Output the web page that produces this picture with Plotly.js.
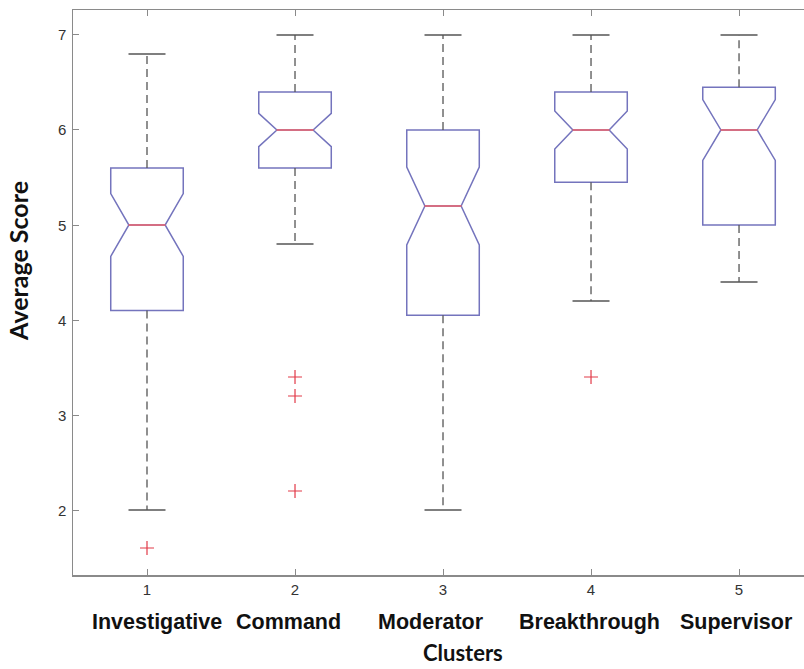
<!DOCTYPE html>
<html>
<head>
<meta charset="utf-8">
<script src="https://cdn.plot.ly/plotly-3.0.1.min.js"></script>
<style>
html,body{margin:0;padding:0;background:#fff;overflow:hidden;}
#chart{width:804px;height:669px;}
</style>
</head>
<body>
<div id="chart"></div>
<script>
// ---- data ----
const categories = ['Investigative', 'Command', 'Moderator', 'Breakthrough', 'Supervisor'];
const positions = [1, 2, 3, 4, 5];
const tickLabels = ['1', '2', '3', '4', '5'];
const q1 = [4.1, 5.6, 4.05, 5.45, 5.0];
const median = [5.0, 6.0, 5.2, 6.0, 6.0];
const q3 = [5.6, 6.4, 6.0, 6.4, 6.45];
const lowerWhisker = [2.0, 4.8, 2.0, 4.2, 4.4];
const upperWhisker = [6.8, 7.0, 7.0, 7.0, 7.0];
const notchSpan = [0.33, 0.175, 0.41, 0.2, 0.32];
const outlierX = [1, 2, 2, 2, 4];
const outlierY = [1.6, 3.4, 3.2, 2.2, 3.4];
const yTicks = [2, 3, 4, 5, 6, 7];

// ---- styles ----
const BOX_W = 0.5;
const HALF_IN = BOX_W / 4;   // half-width of median / caps
const boxColor = '#7474bd';
const medColor = '#e8606a';
const whiskColor = '#555555';
const axisColor = '#8a8a8a';
const ARIAL = "'Liberation Sans', Arial, Helvetica, sans-serif";
const TITLEF = "Lato, 'Open Sans', sans-serif";
const labelShift = [10, -7, -12, -2, -3];

const traces = [];

// notched boxes (whiskers drawn separately as dashed lines)
traces.push({
  type: 'box',
  x: positions,
  q1: q1,
  median: median,
  q3: q3,
  lowerfence: q1,
  upperfence: q3,
  notchspan: notchSpan,
  notched: true,
  notchwidth: 0.25,
  width: positions.map(() => BOX_W),
  whiskerwidth: 0,
  boxpoints: false,
  line: {color: boxColor, width: 1.5},
  fillcolor: 'rgba(0,0,0,0)',
  hoverinfo: 'skip',
  showlegend: false
});

// dashed whiskers
const wx = [], wy = [];
positions.forEach((p, i) => {
  wx.push(p, p, null, p, p, null);
  wy.push(q3[i], upperWhisker[i], null, q1[i], lowerWhisker[i], null);
});
traces.push({
  type: 'scatter', mode: 'lines', x: wx, y: wy,
  line: {color: whiskColor, width: 1.3, dash: '8px,5px'},
  hoverinfo: 'skip', showlegend: false
});

// whisker caps
const cx = [], cy = [];
positions.forEach((p, i) => {
  cx.push(p - HALF_IN, p + HALF_IN, null, p - HALF_IN, p + HALF_IN, null);
  cy.push(upperWhisker[i], upperWhisker[i], null, lowerWhisker[i], lowerWhisker[i], null);
});
traces.push({
  type: 'scatter', mode: 'lines', x: cx, y: cy,
  line: {color: whiskColor, width: 1.3},
  hoverinfo: 'skip', showlegend: false
});

// red medians
const mx = [], my = [];
positions.forEach((p, i) => {
  mx.push(p - HALF_IN, p + HALF_IN, null);
  my.push(median[i], median[i], null);
});
traces.push({
  type: 'scatter', mode: 'lines', x: mx, y: my,
  line: {color: medColor, width: 1.5},
  hoverinfo: 'skip', showlegend: false
});

// outliers
traces.push({
  type: 'scatter', mode: 'markers', x: outlierX, y: outlierY,
  marker: {symbol: 'cross-thin', size: 10, line: {color: '#e23a48', width: 1.2}},
  hoverinfo: 'skip', showlegend: false
});

const annotations = categories.map((c, i) => ({
  text: '<b>' + c + '</b>', x: positions[i], xref: 'x', y: -0.083, yref: 'paper',
  xanchor: 'center', yanchor: 'middle', showarrow: false, xshift: labelShift[i],
  font: {family: ARIAL, size: 21.5, color: '#111'}
}));
// y tick labels (placed close to the axis line like the reference)
yTicks.forEach(v => annotations.push({
  text: String(v), x: -0.007, xref: 'paper', y: v, yref: 'y',
  xanchor: 'right', yanchor: 'middle', showarrow: false,
  font: {family: ARIAL, size: 15, color: '#333'}
}));
annotations.push({
  text: '<b>Clusters</b>', x: 0.5335, xref: 'paper', y: -0.138, yref: 'paper',
  xanchor: 'center', yanchor: 'middle', showarrow: false,
  font: {family: TITLEF, size: 22, color: '#111'}
});
annotations.push({
  text: '<b>Average Score</b>', x: -0.0752, xref: 'paper', y: 0.556, yref: 'paper',
  xanchor: 'center', yanchor: 'middle', showarrow: false, textangle: -90,
  font: {family: TITLEF, size: 25, color: '#111'}
});

const layout = {
  width: 804, height: 669,
  margin: {l: 73, r: 0, t: 10, b: 94, pad: 0},
  paper_bgcolor: '#fff', plot_bgcolor: '#fff',
  showlegend: false,
  xaxis: {
    range: [0.5, 5.439], tickvals: positions, ticktext: tickLabels,
    ticks: 'inside', ticklen: 6, tickwidth: 1, tickcolor: axisColor,
    showline: true, linecolor: axisColor, linewidth: 1.5, mirror: 'ticks',
    showgrid: false, zeroline: false,
    tickfont: {family: ARIAL, size: 15, color: '#333'}
  },
  yaxis: {
    range: [1.316, 7.263], tickvals: yTicks, showticklabels: false,
    ticks: 'inside', ticklen: 6, tickwidth: 1, tickcolor: axisColor,
    showline: true, linecolor: axisColor, linewidth: 1.5, mirror: false,
    showgrid: false, zeroline: false
  },
  annotations: annotations
};

Plotly.newPlot('chart', traces, layout, {staticPlot: true, displayModeBar: false});
</script>
</body>
</html>
